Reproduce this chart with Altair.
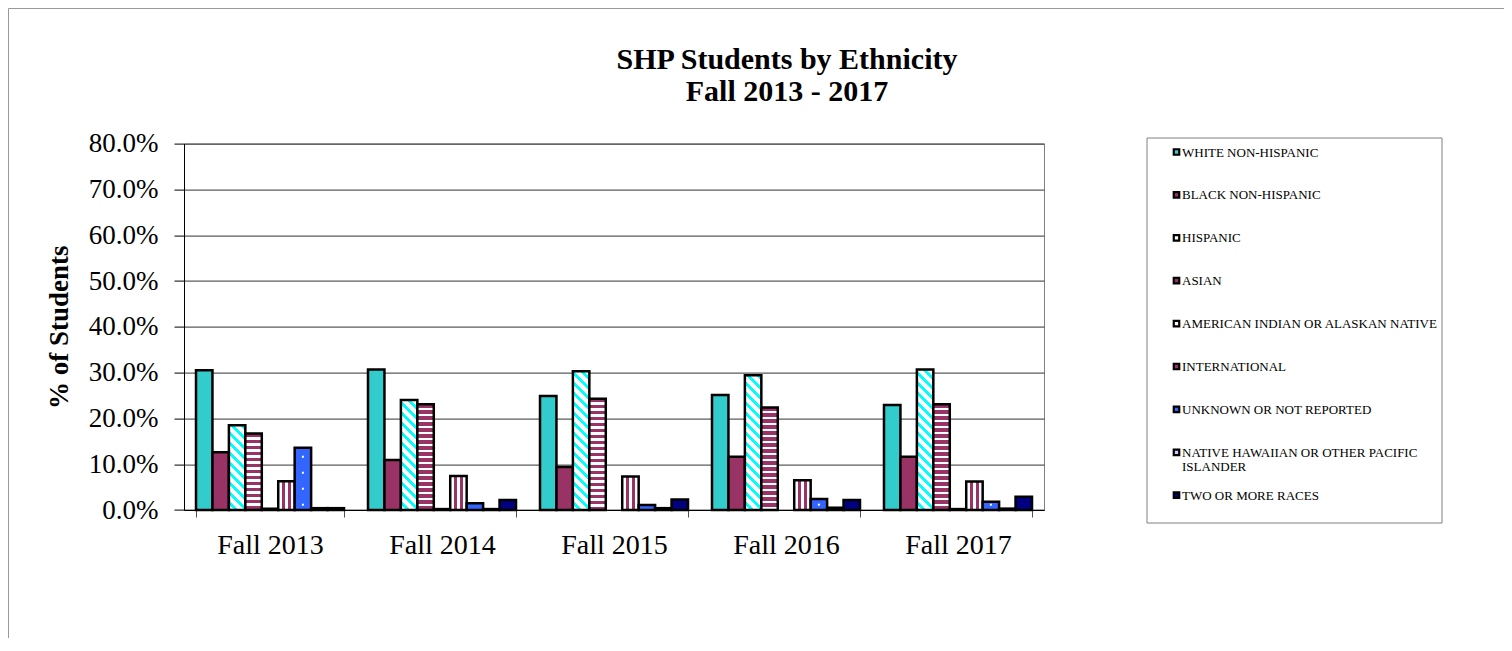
import altair as alt
import pandas as pd

# ---------------- data ----------------
years = ["Fall 2013", "Fall 2014", "Fall 2015", "Fall 2016", "Fall 2017"]
ethnicities = [
    "WHITE NON-HISPANIC",
    "BLACK NON-HISPANIC",
    "HISPANIC",
    "ASIAN",
    "AMERICAN INDIAN OR ALASKAN NATIVE",
    "INTERNATIONAL",
    "UNKNOWN OR NOT REPORTED",
    "NATIVE HAWAIIAN OR OTHER PACIFIC ISLANDER",
    "TWO OR MORE RACES",
]
# percent of students, per ethnicity, Fall 2013..2017
white_pct = [30.5, 30.7, 24.9, 25.1, 22.9]
black_pct = [12.6, 10.9, 9.4, 11.6, 11.6]
hispanic_pct = [18.5, 24.0, 30.3, 29.4, 30.7]
asian_pct = [16.7, 23.1, 24.3, 22.4, 23.1]
amind_pct = [0.3, 0.2, 0.0, 0.0, 0.2]
intl_pct = [6.3, 7.4, 7.3, 6.5, 6.2]
unknown_pct = [13.6, 1.5, 1.1, 2.4, 1.8]
nathaw_pct = [0.4, 0.2, 0.4, 0.5, 0.3]
two_pct = [0.4, 2.2, 2.3, 2.2, 2.9]
series = [white_pct, black_pct, hispanic_pct, asian_pct, amind_pct,
          intl_pct, unknown_pct, nathaw_pct, two_pct]

title_lines = ["SHP Students by Ethnicity", "Fall 2013 - 2017"]
y_title = "% of Students"

rows = [{"year": y, "eth": e, "value": v / 100.0}
        for e, vals in zip(ethnicities, series)
        for y, v in zip(years, vals)]
df = pd.DataFrame(rows)
leg_df = pd.DataFrame({"eth": ethnicities})

# ---------------- styling ----------------
FONT = "Liberation Serif"
W, H = 860, 366.4
PX = H / 0.8            # pixels per unit of value
BW = 148.0 / 9          # bar pixel width
L = 400.0

TEAL, MAROON, BLUE, NAVY = "#33CCCC", "#993366", "#3366FF", "#000080"
CYAN, WHITE, LAV = "#00FFFF", "#FFFFFF", "#CCCCFF"
swatch_colors = [TEAL, MAROON, WHITE, MAROON, WHITE, MAROON, BLUE, LAV, NAVY]


def stripes(c1, c2, period, frac1):
    stops = []
    t = 0.0
    while t < 1.0:
        b = min(t + period * frac1, 1.0)
        c = min(t + period, 1.0)
        stops += [(t, c1), (b, c1), (b, c2), (c, c2)]
        t += period
    return "[" + ",".join("{offset:%.5f,color:'%s'}" % s for s in stops) + "]"


hisp_stops = stripes(WHITE, CYAN, 10.0 / L, 0.6)
asian_stops = stripes(MAROON, WHITE, 6.0 / L, 0.55)
intl_stops = stripes(WHITE, MAROON, 0.4, 0.5)

hisp_grad = (
    "{gradient:'linear',x1:0,y1:1,"
    "x2:%.4f/(%.4f+pow(datum.value*%.4f,2)),"
    "y2:1-%.4f*datum.value/(%.4f+pow(datum.value*%.4f,2)),stops:%s}"
    % (L * BW, BW * BW, PX, L * PX, BW * BW, PX, hisp_stops)
)
asian_grad = (
    "{gradient:'linear',x1:0.5,x2:0.5,y1:0,y2:%.5f/datum.value,stops:%s}"
    % (L / PX, asian_stops)
)
intl_grad = "{gradient:'linear',x1:0,y1:0.5,x2:1,y2:0.5,stops:%s}" % intl_stops

fill_expr = (
    "datum.eth === 'HISPANIC' ? " + hisp_grad +
    " : datum.eth === 'ASIAN' ? " + asian_grad +
    " : datum.eth === 'INTERNATIONAL' ? " + intl_grad +
    " : datum.eth === 'WHITE NON-HISPANIC' ? '%s'" % TEAL +
    " : datum.eth === 'BLACK NON-HISPANIC' ? '%s'" % MAROON +
    " : datum.eth === 'UNKNOWN OR NOT REPORTED' ? '%s'" % BLUE +
    " : datum.eth === 'TWO OR MORE RACES' ? '%s'" % NAVY +
    " : datum.eth === 'NATIVE HAWAIIAN OR OTHER PACIFIC ISLANDER' ? '%s'" % LAV +
    " : '%s'" % WHITE
)

x_enc = alt.X(
    "year:N", sort=years,
    scale=alt.Scale(domain=years, paddingInner=0.1395, paddingOuter=0.0698),
    axis=alt.Axis(title=None, labelAngle=0, labelFont=FONT, labelFontSize=28,
                  labelColor="black", tickBand="extent", tickSize=7,
                  tickColor="#555555", domainColor="black", labelPadding=14,
                  grid=False),
)
xoff_enc = alt.XOffset("eth:N", sort=ethnicities,
                       scale=alt.Scale(domain=ethnicities, paddingInner=0,
                                       paddingOuter=0))

bars = (
    alt.Chart(df)
    .transform_filter("datum.value > 0")
    .transform_calculate(fillv=fill_expr)
    .mark_bar(stroke="black", strokeWidth=2.5)
    .encode(
        x=x_enc,
        xOffset=xoff_enc,
        y=alt.Y("value:Q", stack=None,
                scale=alt.Scale(domain=[0, 0.8], nice=False),
                axis=alt.Axis(format=".1%",
                              values=[0, 0.1, 0.2, 0.3, 0.4, 0.5, 0.6, 0.7, 0.8],
                              labelFont=FONT, labelFontSize=27, labelColor="black",
                              tickSize=10, tickColor="black", domainColor="black",
                              gridColor="#333333", gridWidth=1, labelPadding=16,
                              title=y_title, titleFont=FONT, titleFontSize=27,
                              titleFontWeight="bold", titleColor="black",
                              titlePadding=15)),
        fill=alt.Fill("fillv:N", scale=None),
    )
)

dots = (
    alt.Chart(df)
    .transform_filter("datum.eth === 'UNKNOWN OR NOT REPORTED'")
    .transform_calculate(d="sequence(0.0116, datum.value - 0.004, 0.0349)")
    .transform_flatten(["d"])
    .mark_square(size=4, color="white", opacity=1)
    .encode(
        x=x_enc,
        xOffset=xoff_enc,
        y=alt.Y("d:Q", scale=alt.Scale(domain=[0, 0.8], nice=False), axis=None),
    )
)

# legend (drawn as marks)
LEG_LEFT = 1147 - 184
LEG_RIGHT = 1442 - 184
leg_y = alt.Y("eth:N", sort=ethnicities,
              scale=alt.Scale(type="point", domain=ethnicities,
                              range=[152 - 143.6, 495.2 - 143.6], padding=0),
              axis=None)

leg_box = (
    alt.Chart(alt.Data(values=[{"k": 1}]))
    .mark_rect(fillOpacity=0, stroke="#808080", strokeWidth=1)
    .encode(x=alt.value(LEG_LEFT), x2=alt.value(LEG_RIGHT),
            y=alt.value(138 - 143.6), y2=alt.value(523 - 143.6))
)
leg_sw = (
    alt.Chart(leg_df)
    .mark_square(size=30, stroke="black", strokeWidth=2.2, opacity=1)
    .encode(x=alt.value(1176.5 - 184), y=leg_y,
            color=alt.Color("eth:N", scale=alt.Scale(domain=ethnicities,
                                                     range=swatch_colors),
                            legend=None))
)
leg_txt = (
    alt.Chart(leg_df)
    .transform_calculate(lab="replace(datum.eth, 'PACIFIC ', 'PACIFIC\\n')")
    .mark_text(align="left", baseline="alphabetic", dy=4.5, font=FONT,
               fontSize=13, color="black", lineBreak="\n", lineHeight=14)
    .encode(x=alt.value(1182 - 184), y=leg_y, text="lab:N")
)

frame = (
    alt.Chart(alt.Data(values=[{"k": 1}]))
    .mark_rect(fillOpacity=0, stroke="#999999", strokeWidth=1)
    .encode(x=alt.value(-175.5), x2=alt.value(2000),
            y=alt.value(-135.1), y2=alt.value(1000))
)

title = (
    alt.Chart(alt.Data(values=[{"k": 1}]))
    .mark_text(align="center", baseline="alphabetic", font=FONT, fontSize=30,
               fontWeight="bold", color="black", lineHeight=32)
    .encode(x=alt.value(787 - 184), y=alt.value(69 - 143.6),
            text=alt.value(title_lines))
)

chart = (
    alt.layer(frame, bars, dots, leg_box, leg_sw, leg_txt, title)
    .resolve_scale(y="independent", color="independent", fill="independent")
    .properties(
        width=W, height=H,
        autosize=alt.AutoSizeParams(type="none"),
        padding={"left": 176, "top": 135.6, "right": 460, "bottom": 128},
        background="white",
    )
    .configure_view(stroke="#808080", strokeWidth=1)
)

chart.save("out.html", embed_options={"renderer": "svg", "actions": False})
